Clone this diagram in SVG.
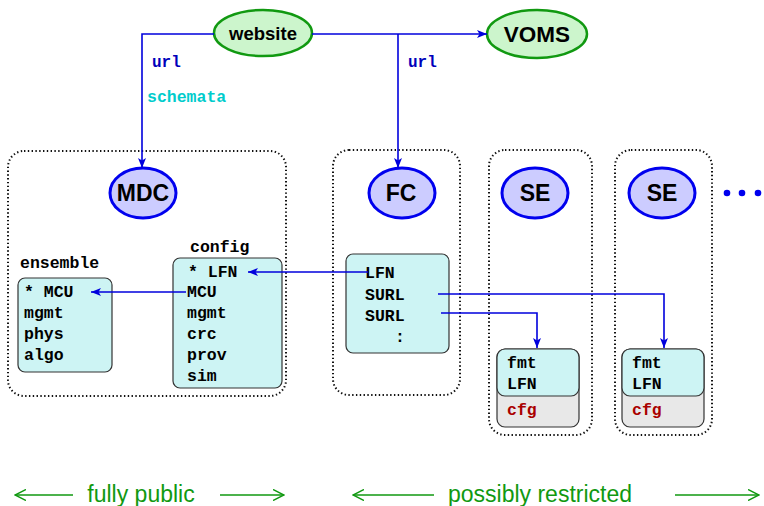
<svg xmlns="http://www.w3.org/2000/svg" width="764" height="506" viewBox="0 0 764 506">
<style>
.grp{fill:none;stroke:#111;stroke-width:2;stroke-dasharray:1.4,2.4}
.gn{fill:#ccf5cc;stroke:#119911;stroke-width:2.5}
.bn{fill:#ccccff;stroke:#0000ee;stroke-width:3}
.nl{font-family:"Liberation Sans",Arial,sans-serif;font-weight:bold;fill:#000;text-anchor:middle}
.box{fill:#cdf4f4;stroke:#333;stroke-width:1.2}
.gbox{fill:#e8e8e8;stroke:#333;stroke-width:1.2}
.m{font-family:"Liberation Mono","Courier New",monospace;font-weight:bold;font-size:16.5px;fill:#000}
.cn{fill:none;stroke:#0000dd;stroke-width:1.6}
.bl{fill:none;stroke:#119911;stroke-width:1.5}
.bt{font-family:"Liberation Sans",Arial,sans-serif;font-size:23px;fill:#119911;text-anchor:middle}
</style>
<defs>
<marker id="ah" viewBox="0 0 10 8" refX="10" refY="4" markerWidth="10" markerHeight="8" markerUnits="userSpaceOnUse" orient="auto">
<path d="M0,0 L10,4 L0,8 L2.5,4 z" fill="#0000dd"/>
</marker>
<marker id="oa" viewBox="0 0 12 12" refX="11" refY="6" markerWidth="12" markerHeight="12" markerUnits="userSpaceOnUse" orient="auto">
<path d="M0,0.5 L11,6 L0,11.5" fill="none" stroke="#119911" stroke-width="1.5"/>
</marker>
</defs>

<g id="group-mdc"><rect class="grp" x="8" y="151" width="278" height="245" rx="16"/></g>
<g id="group-fc"><rect class="grp" x="333" y="150" width="127" height="245" rx="16"/></g>
<g id="group-se1"><rect class="grp" x="489" y="150" width="103" height="285" rx="16"/></g>
<g id="group-se2"><rect class="grp" x="615" y="150" width="97" height="285" rx="16"/></g>

<g id="website"><ellipse class="gn" cx="263" cy="33" rx="49" ry="23"/><text class="nl" x="263" y="40" font-size="18.5">website</text></g>
<g id="voms"><ellipse class="gn" cx="537" cy="34" rx="50" ry="24"/><text class="nl" x="537" y="42" font-size="22.5">VOMS</text></g>

<g id="mdc"><ellipse class="bn" cx="143" cy="193" rx="33" ry="25"/><text class="nl" x="143" y="201" font-size="23">MDC</text></g>
<g id="fc"><ellipse class="bn" cx="402" cy="193" rx="33" ry="25"/><text class="nl" x="401" y="201" font-size="23">FC</text></g>
<g id="se1"><ellipse class="bn" cx="535" cy="193" rx="33" ry="25"/><text class="nl" x="535" y="201" font-size="23">SE</text></g>
<g id="se2"><ellipse class="bn" cx="662" cy="193" rx="33" ry="25"/><text class="nl" x="662" y="201" font-size="23">SE</text></g>

<g id="more"><circle cx="727" cy="193" r="3.3" fill="#0000ee"/><circle cx="742" cy="193" r="3.3" fill="#0000ee"/><circle cx="758" cy="193" r="3.3" fill="#0000ee"/></g>

<g id="ensemble">
<text class="m" x="20" y="268">ensemble</text>
<rect class="box" x="18" y="278" width="94" height="94" rx="7"/>
<text class="m" x="24" y="297">* MCU</text>
<text class="m" x="24" y="318">mgmt</text>
<text class="m" x="24" y="339">phys</text>
<text class="m" x="24" y="360">algo</text>
</g>

<g id="config">
<text class="m" x="190" y="252">config</text>
<rect class="box" x="173" y="258" width="109" height="130" rx="7"/>
<text class="m" x="188" y="277">* LFN</text>
<text class="m" x="187" y="297">MCU</text>
<text class="m" x="187" y="318">mgmt</text>
<text class="m" x="187" y="339">crc</text>
<text class="m" x="187" y="360">prov</text>
<text class="m" x="187" y="381">sim</text>
</g>

<g id="fc-table">
<rect class="box" x="346" y="254" width="103" height="99" rx="7"/>
<text class="m" x="365" y="278">LFN</text>
<text class="m" x="365" y="300">SURL</text>
<text class="m" x="365" y="321">SURL</text>
<text class="m" x="395" y="342">:</text>
</g>

<g id="se1-table">
<rect class="gbox" x="497" y="349" width="82" height="78" rx="8"/>
<rect class="box" x="497" y="349" width="82" height="47" rx="8"/>
<text class="m" x="507" y="368">fmt</text>
<text class="m" x="507" y="389">LFN</text>
<text class="m" x="507" y="415" fill="#aa0000" style="fill:#aa0000">cfg</text>
</g>

<g id="se2-table">
<rect class="gbox" x="622" y="349" width="82" height="78" rx="8"/>
<rect class="box" x="622" y="349" width="82" height="47" rx="8"/>
<text class="m" x="632" y="368">fmt</text>
<text class="m" x="632" y="389">LFN</text>
<text class="m" x="632" y="415" style="fill:#aa0000">cfg</text>
</g>

<g id="connectors">
<path class="cn" d="M214,34 H142 V168" marker-end="url(#ah)"/>
<path class="cn" d="M312,34 H487" marker-end="url(#ah)"/>
<path class="cn" d="M398,34 V168" marker-end="url(#ah)"/>
<path class="cn" d="M368,272 H248" marker-end="url(#ah)"/>
<path class="cn" d="M186,292 H91" marker-end="url(#ah)"/>
<path class="cn" d="M438,294 H664 V348" marker-end="url(#ah)"/>
<path class="cn" d="M441,313 H537 V348" marker-end="url(#ah)"/>
<text x="152" y="67" style="font-family:'Liberation Mono',monospace;font-weight:bold;font-size:16px;fill:#0000bb">url</text>
<text x="147" y="102" style="font-family:'Liberation Mono',monospace;font-weight:bold;font-size:16.5px;fill:#00cccc">schemata</text>
<text x="408" y="67" style="font-family:'Liberation Mono',monospace;font-weight:bold;font-size:16px;fill:#0000bb">url</text>
</g>

<g id="legend">
<path class="bl" d="M73,495 H15" marker-end="url(#oa)"/>
<text class="bt" x="141" y="502">fully public</text>
<path class="bl" d="M220,495 H284" marker-end="url(#oa)"/>
<path class="bl" d="M434,495 H353" marker-end="url(#oa)"/>
<text class="bt" x="540" y="502">possibly restricted</text>
<path class="bl" d="M675,495 H759" marker-end="url(#oa)"/>
</g>
</svg>
